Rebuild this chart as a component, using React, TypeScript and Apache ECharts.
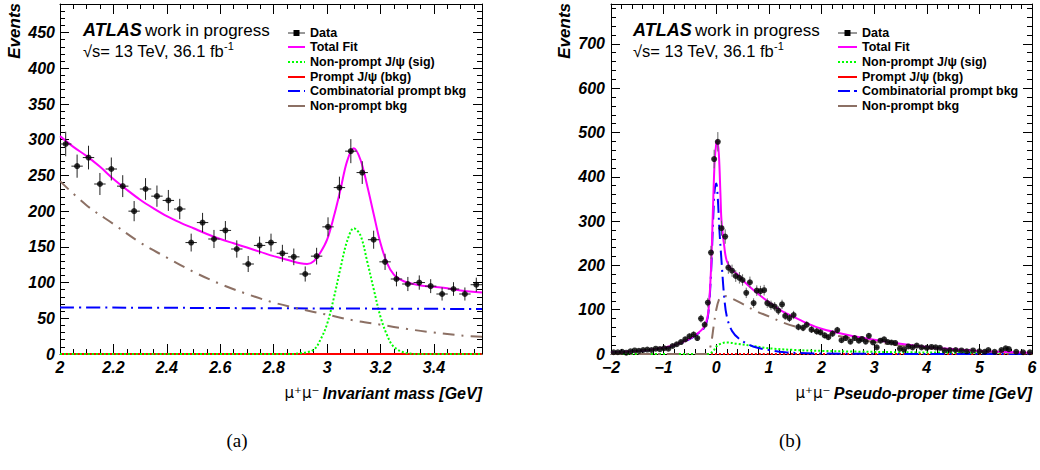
import React, { useEffect, useRef } from 'react';
import * as echarts from 'echarts';

// ---------- (a) invariant mass ----------
const MASS_MIN = 2.0;
const MASS_MAX = 3.58;
const massCounts = [294, 263, 275, 238, 259, 235, 200, 231, 221, 215, 203, 156, 184, 161, 173, 147, 126, 152, 156, 141, 136, 112, 137, 178, 233, 284, 254, 160, 129, 105, 98, 100, 95, 84, 91, 84, 97];

const massTotalX = [2.0, 2.05, 2.1, 2.15, 2.2, 2.25, 2.3, 2.35, 2.4, 2.45, 2.5, 2.55, 2.6, 2.65, 2.7, 2.75, 2.8, 2.85, 2.9, 2.925, 2.95, 2.975, 3.0, 3.025, 3.05, 3.075, 3.1, 3.125, 3.15, 3.175, 3.2, 3.225, 3.25, 3.275, 3.3, 3.35, 3.4, 3.45, 3.5, 3.58];
const massTotalY = [305, 290, 277, 262, 245, 230, 216, 204, 193, 184, 176, 168, 161, 155, 149, 143, 137, 132, 127, 126, 130, 142, 160, 192, 230, 270, 288, 272, 236, 195, 155, 127, 111, 104, 100, 96, 94, 92, 89, 86];

const massSigX = [2.0, 2.85, 2.9, 2.95, 2.975, 3.0, 3.025, 3.05, 3.075, 3.1, 3.125, 3.15, 3.175, 3.2, 3.225, 3.25, 3.3, 3.35, 3.58];
const massSigY = [0, 0, 1, 6, 20, 42, 78, 120, 158, 176, 166, 130, 90, 52, 26, 10, 1, 0, 0];

const massPromptX = [2.0, 3.58];
const massPromptY = [0, 0];

const massCombX = [2.0, 2.1, 2.8, 3.58];
const massCombY = [65, 65, 64, 63];

const massNpX = [2.0, 2.1, 2.2, 2.3, 2.4, 2.5, 2.6, 2.7, 2.8, 2.9, 3.0, 3.1, 3.2, 3.3, 3.4, 3.5, 3.58];
const massNpY = [242, 208, 182, 156, 135, 115, 98, 84, 72, 63, 55, 47, 41, 35, 30, 26, 24];

// ---------- (b) pseudo-proper time ----------
const TIME_BIN_HALF = 0.04;
const timeX = [-1.95, -1.87, -1.79, -1.71, -1.63, -1.55, -1.47, -1.39, -1.31, -1.23, -1.15, -1.07, -0.99, -0.91, -0.83, -0.75, -0.67, -0.59, -0.51, -0.43, -0.36, -0.29, -0.22, -0.16, -0.1, -0.04, 0.03, 0.1, 0.17, 0.23, 0.3, 0.37, 0.44, 0.5, 0.57, 0.64, 0.71, 0.77, 0.84, 0.91, 0.97, 1.04, 1.11, 1.18, 1.25, 1.31, 1.39, 1.47, 1.56, 1.65, 1.72, 1.81, 1.91, 1.98, 2.06, 2.13, 2.21, 2.3, 2.38, 2.46, 2.55, 2.63, 2.71, 2.77, 2.84, 2.9, 2.98, 3.05, 3.12, 3.19, 3.26, 3.33, 3.4, 3.49, 3.57, 3.65, 3.73, 3.81, 3.9, 4.0, 4.09, 4.17, 4.25, 4.34, 4.44, 4.55, 4.66, 4.76, 4.88, 5.0, 5.1, 5.17, 5.29, 5.42, 5.5, 5.56, 5.7, 5.83, 5.96];
const timeCounts = [4, 4, 5, 3, 6, 8, 7, 9, 10, 9, 12, 11, 13, 12, 18, 22, 27, 33, 40, 44, 36, 80, 66, 116, 229, 440, 479, 284, 265, 195, 188, 176, 172, 167, 138, 162, 115, 143, 142, 144, 115, 110, 107, 98, 112, 86, 81, 88, 61, 59, 66, 55, 51, 49, 42, 38, 46, 54, 31, 36, 28, 36, 30, 34, 28, 41, 26, 15, 30, 33, 27, 26, 25, 12, 10, 17, 15, 19, 15, 14, 16, 15, 14, 8, 9, 9, 8, 6, 8, 6, 5, 9, 5, 9, 13, 11, 5, 4, 4];

const timeTotalX = [-2, -1.5, -1, -0.75, -0.5, -0.35, -0.25, -0.2, -0.15, -0.1, -0.06, -0.03, 0, 0.02, 0.05, 0.08, 0.1, 0.15, 0.2, 0.3, 0.4, 0.5, 0.7, 1, 1.25, 1.5, 1.75, 2, 2.5, 3, 3.5, 4, 4.5, 5, 5.5, 6];
const timeTotalY = [4, 7, 14, 22, 35, 47, 58, 68, 95, 190, 337, 435, 475, 482, 450, 360, 300, 245, 210, 190, 180, 167, 145, 117, 97, 82, 68, 57, 43, 32, 23, 16, 11, 7, 4.5, 2.5];

const timeSigX = [-2, -0.15, -0.05, 0, 0.1, 0.2, 0.4, 0.7, 1, 1.5, 2, 2.6, 3.5, 4.5, 6];
const timeSigY = [0, 0, 8, 17, 24, 26, 23, 18, 13, 9, 7, 5.5, 4, 3, 1.5];

const timePromptX = [-2, 6];
const timePromptY = [0, 0];

const timeCombX = [-2, -1.5, -1, -0.75, -0.5, -0.35, -0.25, -0.2, -0.15, -0.1, -0.06, -0.03, 0, 0.03, 0.06, 0.1, 0.15, 0.2, 0.3, 0.45, 0.7, 1, 1.3, 1.6, 2, 3, 6];
const timeCombY = [4, 7, 13, 21, 34, 46, 56, 65, 92, 180, 300, 370, 385, 350, 280, 210, 130, 85, 52, 33, 17, 9, 4, 2, 1, 0.3, 0];

const timeNpX = [-2, -0.2, -0.15, -0.1, -0.05, 0, 0.05, 0.1, 0.15, 0.25, 0.5, 0.75, 1, 1.25, 1.5, 1.75, 2, 2.5, 3, 3.5, 4, 4.5, 5, 5.5, 6];
const timeNpY = [0, 0, 5, 22, 62, 100, 122, 130, 131, 128, 113, 97, 85, 72, 62, 55, 48, 37, 27, 19, 13, 8.5, 5, 3, 1.5];

const legendLabels = ['Data', 'Total Fit', 'Non-prompt J/\u03c8 (sig)', 'Prompt J/\u03c8 (bkg)', 'Combinatorial prompt bkg', 'Non-prompt bkg'];

const SANS = '"Liberation Sans", Arial, Helvetica, sans-serif';
const C_TOTAL = '#ff00ff';
const C_SIG = '#00ff00';
const C_PROMPT = '#ff0000';
const C_COMB = '#0000ff';
const C_NP = '#8c7064';

const zip = (xs: number[], ys: number[]) => xs.map((x, i) => [x, ys[i]]);

function errBarSeries(data: number[][], xi: number, yi: number, color: string) {
  return {
    type: 'custom',
    xAxisIndex: xi,
    yAxisIndex: yi,
    clip: true,
    z: 4,
    encode: { x: 0, y: 1 },
    data,
    renderItem: (_p: any, api: any) => {
      const x = api.value(0), y = api.value(1), ex = api.value(2), ey = api.value(3);
      const lo = api.coord([x, y - ey]);
      const hi = api.coord([x, y + ey]);
      const l = api.coord([x - ex, y]);
      const r = api.coord([x + ex, y]);
      const st = { stroke: color, lineWidth: 1 };
      return {
        type: 'group',
        children: [
          { type: 'line', shape: { x1: lo[0], y1: lo[1], x2: hi[0], y2: hi[1] }, style: st },
          { type: 'line', shape: { x1: l[0], y1: l[1], x2: r[0], y2: r[1] }, style: st },
        ],
      };
    },
  };
}

function curve(xs: number[], ys: number[], xi: number, yi: number, color: string, type: any, z: number) {
  return {
    type: 'line',
    xAxisIndex: xi,
    yAxisIndex: yi,
    data: zip(xs, ys),
    showSymbol: false,
    symbol: 'none',
    smooth: 0.35,
    clip: true,
    z,
    lineStyle: { color, width: 2, type },
  };
}

const isMultiple = (v: number, step: number) => Math.abs(v / step - Math.round(v / step)) < 1e-6;

function axisCommon(min: number, max: number, interval: number, minorSplit: number, position: string, showLabel: boolean, fmt: (v: number) => string, majorLen: number, minorLen: number, margin: number) {
  return {
    type: 'value',
    min,
    max,
    interval,
    position,
    axisLine: { show: true, onZero: false, lineStyle: { color: '#000', width: 1 } },
    axisTick: { show: true, inside: true, length: majorLen, lineStyle: { color: '#000', width: 1 } },
    minorTick: { show: true, splitNumber: minorSplit, length: minorLen, lineStyle: { color: '#000', width: 1 } },
    splitLine: { show: false },
    minorSplitLine: { show: false },
    axisLabel: {
      show: showLabel,
      color: '#000',
      fontFamily: SANS,
      fontWeight: 'bold',
      fontStyle: 'italic',
      fontSize: 16,
      margin,
      formatter: (v: number) => (isMultiple(v, interval) ? fmt(v) : ''),
    },
  };
}

function legendGraphics(x0: number, x1: number, tx: number) {
  const ys = [33, 47, 62, 77, 91, 106];
  const els: any[] = [];
  const mid = (x0 + x1) / 2;
  els.push({ type: 'line', shape: { x1: x0, y1: ys[0], x2: x1, y2: ys[0] }, style: { stroke: '#333', lineWidth: 1 } });
  els.push({ type: 'rect', shape: { x: mid - 3, y: ys[0] - 3, width: 6, height: 6 }, style: { fill: '#000' } });
  const styles: any[] = [
    { stroke: C_TOTAL, lineWidth: 2 },
    { stroke: C_SIG, lineWidth: 2, lineDash: [2, 2] },
    { stroke: C_PROMPT, lineWidth: 2 },
    { stroke: C_COMB, lineWidth: 2, lineDash: [12, 4] },
    { stroke: C_NP, lineWidth: 2 },
  ];
  styles.forEach((s, i) => {
    els.push({ type: 'line', shape: { x1: x0, y1: ys[i + 1], x2: x1, y2: ys[i + 1] }, style: s });
  });
  legendLabels.forEach((t, i) => {
    els.push({
      type: 'text',
      x: tx,
      y: ys[i],
      style: { text: t, font: `bold 12.5px ${SANS}`, fill: '#000', verticalAlign: 'middle', align: 'left' },
    });
  });
  return els;
}

function atlasGraphics(x: number) {
  return [
    {
      type: 'text',
      x,
      y: 30,
      style: {
        text: '{a|ATLAS} {b|work in progress}',
        verticalAlign: 'middle',
        rich: {
          a: { font: `italic bold 18px ${SANS}`, fill: '#000' },
          b: { font: `17px ${SANS}`, fill: '#000' },
        },
      },
    },
    {
      type: 'text',
      x,
      y: 51,
      style: {
        text: '{b|\u221as= 13 TeV, 36.1 fb}{s|-1}',
        verticalAlign: 'middle',
        rich: {
          b: { font: `16.5px ${SANS}`, fill: '#000' },
          s: { font: `11px ${SANS}`, fill: '#000', verticalAlign: 'top', padding: [0, 0, 10, 0] },
        },
      },
    },
  ];
}

function yTitle(x: number) {
  return {
    type: 'text',
    x,
    y: 3,
    rotation: Math.PI / 2,
    style: { text: 'Events', font: `italic bold 17px ${SANS}`, fill: '#000', align: 'right', verticalAlign: 'middle' },
  };
}

function xTitle(xRight: number, label: string) {
  return {
    type: 'text',
    x: xRight,
    y: 393,
    style: {
      text: `{m|\u03bc\u207a\u03bc\u207b} {b|${label}}`,
      align: 'right',
      verticalAlign: 'middle',
      rich: {
        m: { font: `15px "DejaVu Sans", ${SANS}`, fill: '#000' },
        b: { font: `italic bold 16px ${SANS}`, fill: '#000' },
      },
    },
  };
}

export default function App() {
  const ref = useRef<HTMLDivElement>(null);
  useEffect(() => {
    if (!ref.current) return;
    const chart = echarts.init(ref.current, undefined, { renderer: 'svg' });
    const massW = (MASS_MAX - MASS_MIN) / massCounts.length;
    const massData = massCounts.map((c, i) => [MASS_MIN + (i + 0.5) * massW, c]);
    const massErr = massCounts.map((c, i) => [MASS_MIN + (i + 0.5) * massW, c, massW / 2, Math.sqrt(c)]);
    const timeData = timeCounts.map((c, i) => [timeX[i], c]);
    const timeErr = timeCounts.map((c, i) => [timeX[i], c, TIME_BIN_HALF, Math.sqrt(c)]);

    const fmtMass = (v: number) => String(Math.round(v * 10) / 10);
    const fmtInt = (v: number) => String(Math.round(v)).replace('-', '\u2212');

    const option: any = {
      animation: false,
      backgroundColor: '#fff',
      grid: [
        { left: 60, top: 4, width: 422, height: 350, outerBoundsMode: 'none', containLabel: false },
        { left: 611, top: 4, width: 421, height: 350, outerBoundsMode: 'none', containLabel: false },
      ],
      xAxis: [
        { ...axisCommon(2.0, 3.58, 0.2, 4, 'bottom', true, fmtMass, 10, 5, 5), gridIndex: 0 },
        { ...axisCommon(2.0, 3.58, 0.2, 4, 'top', false, fmtMass, 10, 5, 5), gridIndex: 0 },
        { ...axisCommon(-2, 6, 1, 5, 'bottom', true, fmtInt, 10, 5, 5), gridIndex: 1 },
        { ...axisCommon(-2, 6, 1, 5, 'top', false, fmtInt, 10, 5, 5), gridIndex: 1 },
      ],
      yAxis: [
        { ...axisCommon(0, 490, 50, 5, 'left', true, fmtInt, 9, 5, 5), gridIndex: 0 },
        { ...axisCommon(0, 490, 50, 5, 'right', false, fmtInt, 9, 5, 5), gridIndex: 0 },
        { ...axisCommon(0, 790, 100, 5, 'left', true, fmtInt, 9, 5, 6), gridIndex: 1 },
        { ...axisCommon(0, 790, 100, 5, 'right', false, fmtInt, 9, 5, 6), gridIndex: 1 },
      ],
      series: [
        curve(massPromptX, massPromptY, 0, 0, C_PROMPT, 'solid', 2),
        curve(massSigX, massSigY, 0, 0, C_SIG, 'dotted', 2),
        curve(massCombX, massCombY, 0, 0, C_COMB, [14, 5, 2, 5], 2),
        curve(massNpX, massNpY, 0, 0, C_NP, [12, 7, 2, 7], 2),
        curve(massTotalX, massTotalY, 0, 0, C_TOTAL, 'solid', 3),
        errBarSeries(massErr, 0, 0, '#222'),
        { type: 'scatter', xAxisIndex: 0, yAxisIndex: 0, data: massData, symbol: 'circle', symbolSize: 6, itemStyle: { color: '#000' }, z: 5 },

        curve(timePromptX, timePromptY, 2, 2, C_PROMPT, 'dotted', 2),
        curve(timeSigX, timeSigY, 2, 2, C_SIG, 'dotted', 2),
        curve(timeCombX, timeCombY, 2, 2, C_COMB, [14, 5, 2, 5], 2),
        curve(timeNpX, timeNpY, 2, 2, C_NP, [12, 7, 2, 7], 2),
        curve(timeTotalX, timeTotalY, 2, 2, C_TOTAL, 'solid', 3),
        errBarSeries(timeErr, 2, 2, '#666'),
        { type: 'scatter', xAxisIndex: 2, yAxisIndex: 2, data: timeData, symbol: 'circle', symbolSize: 6, itemStyle: { color: '#000' }, z: 5 },
      ],
      graphic: [
        ...atlasGraphics(83),
        ...atlasGraphics(633),
        ...legendGraphics(288, 305, 310),
        ...legendGraphics(838, 857, 862),
        yTitle(14),
        yTitle(564),
        xTitle(482, 'Invariant mass [GeV]'),
        xTitle(1032, 'Pseudo-proper time [GeV]'),
        { type: 'text', x: 237, y: 440, style: { text: '(a)', font: '19px "Liberation Serif", "DejaVu Serif", serif', fill: '#000', align: 'center', verticalAlign: 'middle' } },
        { type: 'text', x: 790, y: 440, style: { text: '(b)', font: '19px "Liberation Serif", "DejaVu Serif", serif', fill: '#000', align: 'center', verticalAlign: 'middle' } },
      ],
    };
    chart.setOption(option);
    return () => chart.dispose();
  }, []);
  return <div ref={ref} style={{ position: 'fixed', left: 0, top: 0, width: 1040, height: 470, background: '#fff' }} />;
}
